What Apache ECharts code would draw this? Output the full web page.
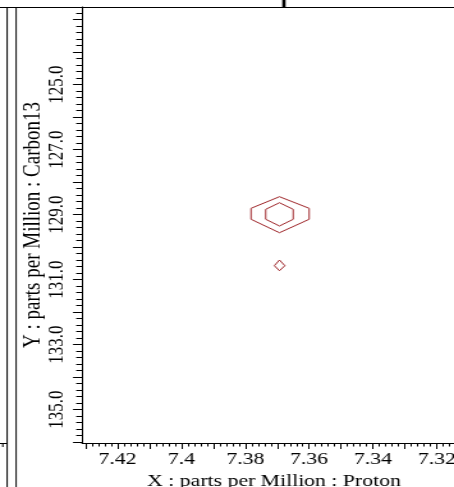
<!DOCTYPE html>
<html>
<head>
<meta charset="utf-8">
<title>HSQC</title>
<script src="https://cdn.jsdelivr.net/npm/echarts@6/dist/echarts.min.js"></script>
<style>
  html, body { margin: 0; padding: 0; background: #fff; overflow: hidden; }
  /* the plot is laid out narrow and stretched sideways, like the instrument printout */
  #chart { width: 355px; height: 487px; transform: scaleX(1.2789); transform-origin: 0 0; }
</style>
</head>
<body>
<div id="chart"></div>
<script>
// Cross-peak contours, [1H ppm, 13C ppm]
const contourOuter = [[7.3693, 128.452], [7.3600, 128.809], [7.3600, 129.147], [7.3693, 129.560], [7.3782, 129.147], [7.3782, 128.809], [7.3693, 128.452]];
const contourInner = [[7.3693, 128.637], [7.3650, 128.840], [7.3650, 129.147], [7.3693, 129.353], [7.3736, 129.147], [7.3736, 128.840], [7.3693, 128.637]];
const contourSmall = [[7.3693, 130.400], [7.3676, 130.575], [7.3693, 130.729], [7.3709, 130.575], [7.3693, 130.400]];

// Axis labels
const xTickValues = [7.42, 7.40, 7.38, 7.36, 7.34, 7.32];
const xTickLabels = ['7.42', '7.4', '7.38', '7.36', '7.34', '7.32'];
const yTickValues = [125, 127, 129, 131, 133, 135];
const yTickLabels = ['125.0', '127.0', '129.0', '131.0', '133.0', '135.0'];

// Visible window in ppm
const xRange = [7.31091, 7.4311];
const yRange = [122.615, 136.03];

function ticksBetween(lo, hi, step, digits) {
  const out = [];
  for (let k = Math.ceil(lo / step - 1e-9); k * step <= hi + 1e-9; k++) {
    out.push(+(k * step).toFixed(digits));
  }
  return out;
}
const xMajorTicks = ticksBetween(xRange[0], xRange[1], 0.01, 2);
const xMinorTicks = ticksBetween(xRange[0], xRange[1], 0.002, 3);
const yMajorTicks = ticksBetween(yRange[0], yRange[1], 1, 0);
const yMinorTicks = ticksBetween(yRange[0], yRange[1], 0.2, 1);

const serif = 'Liberation Serif';
const ink = '#000';
const contourColor = '#a0282c';

function labelFor(values, labels) {
  return v => {
    const i = values.findIndex(t => Math.abs(t - v) < 1e-6);
    return i < 0 ? '' : labels[i];
  };
}

const chart = echarts.init(document.getElementById('chart'));
chart.setOption({
  animation: false,
  backgroundColor: '#fff',
  grid: { left: 64.1, top: 7, width: 300.3, height: 436, containLabel: false, outerBoundsMode: 'none' },
  xAxis: [
    {
      type: 'value', min: xRange[0], max: xRange[1], inverse: true, position: 'bottom',
      axisLine: { show: true, lineStyle: { color: ink, width: 1 } },
      axisTick: { show: true, customValues: xMajorTicks, length: 6, lineStyle: { color: ink, width: 1 } },
      axisLabel: {
        show: true, customValues: xTickValues, formatter: labelFor(xTickValues, xTickLabels),
        color: ink, fontFamily: serif, fontSize: 17, margin: 8
      },
      splitLine: { show: false },
      name: 'X : parts per Million : Proton', nameLocation: 'middle', nameGap: 30, nameMoveOverlap: false,
      nameTextStyle: { color: ink, fontFamily: serif, fontSize: 17 }
    },
    {
      type: 'value', min: xRange[0], max: xRange[1], inverse: true, position: 'bottom',
      axisLine: { show: false },
      axisTick: { show: true, customValues: xMinorTicks, length: 3.5, lineStyle: { color: ink, width: 1 } },
      axisLabel: { show: false },
      splitLine: { show: false }
    }
  ],
  yAxis: [
    {
      type: 'value', min: yRange[0], max: yRange[1], inverse: true, position: 'left',
      axisLine: { show: true, lineStyle: { color: ink, width: 1 } },
      axisTick: { show: true, customValues: yMajorTicks, length: 7, lineStyle: { color: ink, width: 1 } },
      axisLabel: {
        show: true, customValues: yTickValues, formatter: labelFor(yTickValues, yTickLabels),
        rotate: 90, color: ink, fontFamily: serif, fontSize: 17, margin: 11
      },
      splitLine: { show: false },
      name: 'Y : parts per Million : Carbon13', nameLocation: 'middle', nameGap: 28.5, nameRotate: 90,
      nameMoveOverlap: false,
      nameTextStyle: { color: ink, fontFamily: serif, fontSize: 19 }
    },
    {
      type: 'value', min: yRange[0], max: yRange[1], inverse: true, position: 'left',
      axisLine: { show: false },
      axisTick: { show: true, customValues: yMinorTicks, length: 4.5, lineStyle: { color: ink, width: 1 } },
      axisLabel: { show: false },
      splitLine: { show: false }
    }
  ],
  series: [
    { name: 'level 2', data: contourOuter },
    { name: 'level 3', data: contourInner },
    { name: 'level 2b', data: contourSmall }
  ].map(s => ({
    type: 'line', name: s.name, data: s.data, xAxisIndex: 0, yAxisIndex: 0,
    symbol: 'none', showSymbol: false, silent: true, clip: true,
    lineStyle: { color: contourColor, width: 1 }
  })),
  graphic: [
    // window frame around the plot panel
    { type: 'line', shape: { x1: 0, y1: 7.5, x2: 360, y2: 7.5 }, style: { stroke: ink, lineWidth: 1 } },
    { type: 'line', shape: { x1: 5.6, y1: 7, x2: 5.6, y2: 487 }, style: { stroke: ink, lineWidth: 1 } },
    { type: 'line', shape: { x1: 12.6, y1: 7, x2: 12.6, y2: 487 }, style: { stroke: ink, lineWidth: 1 } },
    { type: 'line', shape: { x1: 0, y1: 443.5, x2: 5.6, y2: 443.5 }, style: { stroke: ink, lineWidth: 1 } },
    { type: 'line', shape: { x1: 2.2, y1: 443.5, x2: 2.2, y2: 447 }, style: { stroke: ink, lineWidth: 1 } },
    // foot of the title glyph above the panel
    { type: 'rect', shape: { x: 220.7, y: 0, width: 2.6, height: 7 }, style: { fill: ink } }
  ]
});
</script>
</body>
</html>
